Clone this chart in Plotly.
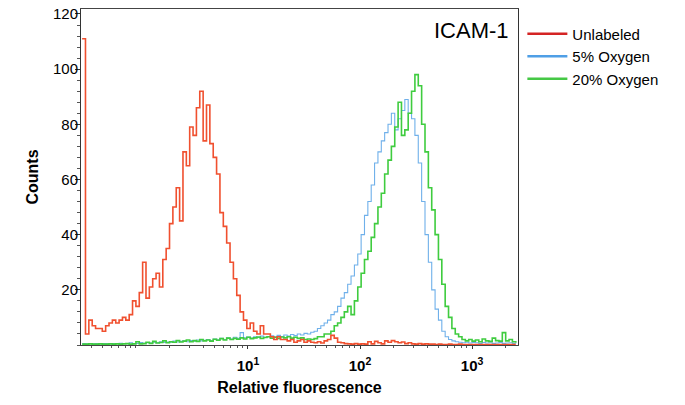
import plotly.graph_objects as go

# log10 of relative fluorescence at each histogram channel (bin start)
log_bins = [
    -0.48, -0.45, -0.42, -0.39, -0.36, -0.33, -0.30, -0.27, -0.24, -0.21,
    -0.18, -0.15, -0.12, -0.09, -0.06, -0.03, 0.00, 0.03, 0.06, 0.09,
    0.12, 0.15, 0.18, 0.21, 0.24, 0.27, 0.30, 0.33, 0.36, 0.39,
    0.42, 0.45, 0.48, 0.51, 0.54, 0.57, 0.60, 0.63, 0.66, 0.69,
    0.72, 0.75, 0.78, 0.81, 0.84, 0.87, 0.90, 0.93, 0.96, 0.99,
    1.02, 1.05, 1.08, 1.11, 1.14, 1.17, 1.20, 1.23, 1.26, 1.29,
    1.32, 1.35, 1.38, 1.41, 1.44, 1.47, 1.50, 1.53, 1.56, 1.59,
    1.62, 1.65, 1.68, 1.71, 1.74, 1.77, 1.80, 1.83, 1.86, 1.89,
    1.92, 1.95, 1.98, 2.01, 2.04, 2.07, 2.10, 2.13, 2.16, 2.19,
    2.22, 2.25, 2.28, 2.31, 2.34, 2.37, 2.40, 2.43, 2.46, 2.49,
    2.52, 2.55, 2.58, 2.61, 2.64, 2.67, 2.70, 2.73, 2.76, 2.79,
    2.82, 2.85, 2.88, 2.91, 2.94, 2.97, 3.00, 3.03, 3.06, 3.09,
    3.12, 3.15, 3.18, 3.21, 3.24, 3.27, 3.30, 3.33, 3.36, 3.39,
]

unlabeled = [
    111, 4, 9, 7, 6, 6, 5, 7, 8, 9,
    8, 9, 10, 9, 11, 16, 14, 19, 30, 17,
    21, 24, 26, 21, 31, 35, 44, 50, 57, 45,
    70, 65, 79, 76, 86, 92, 74, 87, 73, 68,
    62, 48, 43, 37, 30, 24, 18, 12, 9, 6,
    8, 5, 4, 7, 4, 4, 3, 2, 3, 2,
    2, 1.5, 2, 1, 1.5, 2, 1, 1.5, 1, 0.8,
    1.2, 0.7, 1.5, 2, 3.5, 2.5, 1.0, 0.8, 0.5, 0.4,
    0.3, 0.5, 0.3, 0.4, 0.3, 1.2, 0.4, 1.3, 0.8, 0.4,
    1.5, 1.0, 1.6, 1.2, 0.8, 1.1, 0.5, 0.8, 0.4, 0.3,
    0.5, 0.3, 0.4, 0.3, 0.3, 0.2, 0.3, 0.2, 0.2, 0.3,
    0.2, 0.2, 0.3, 0.2, 0.2, 0.2, 0.2, 0.2, 0.2, 0.2,
    0.2, 0.2, 0.2, 0.2, 0.2, 0.2, 0.2, 0.2, 0.2, 0.2,
]

oxygen_5 = [
    0.5, 0.4, 0.5, 0.4, 0.5, 0.4, 0.5, 0.5, 0.4, 0.5,
    0.5, 0.6, 0.5, 0.5, 0.8, 0.5, 0.6, 0.9, 0.6, 0.8,
    0.7, 1.0, 0.8, 1.2, 0.9, 1.1, 1.0, 1.4, 1.1, 1.3,
    1.5, 1.2, 1.6, 1.4, 1.8, 1.5, 1.7, 2.0, 1.6, 2.2,
    1.9, 2.4, 2.0, 2.6, 2.2, 2.8, 2.4, 4.5, 2.6, 2.9,
    2.5, 3.0, 2.7, 3.2, 2.8, 3.0, 3.3, 2.9, 3.5, 3.1,
    3.6, 3.2, 3.8, 3.4, 4.0, 3.6, 4.2, 4.0, 4.6, 5.0,
    6, 7, 8, 9, 11, 12, 14, 17, 19, 22,
    25, 29, 33, 40, 47, 52, 58, 66, 70, 74,
    77, 80, 84, 78, 82, 85, 89, 84, 82, 76,
    66, 52, 40, 30, 20, 13, 9, 5, 3, 2,
    1.5, 1.2, 1.0, 0.8, 1.0, 0.7, 0.9, 0.8, 0.6, 0.9,
    0.7, 0.8, 0.6, 0.7, 0.9, 0.6, 0.7, 0.8, 0.6, 0.5,
]

oxygen_20 = [
    0.3, 0.3, 0.4, 0.3, 0.3, 0.4, 0.3, 0.3, 0.4, 0.3,
    0.4, 0.3, 0.4, 0.5, 0.3, 0.4, 1.2, 0.4, 0.5, 1.0,
    0.6, 1.3, 0.7, 0.9, 1.5, 0.8, 1.2, 1.0, 1.6, 1.1,
    1.4, 1.8, 1.2, 1.6, 1.3, 2.0, 1.5, 1.8, 1.4, 2.1,
    1.7, 2.3, 1.8, 2.5, 2.0, 2.4, 2.1, 2.6, 2.2, 2.8,
    2.3, 2.6, 2.9, 2.4, 2.7, 3.0, 2.5, 2.8, 2.4, 2.9,
    2.6, 3.0, 2.5, 2.8, 2.4, 2.6, 2.0, 2.2, 2.0, 2.3,
    3, 3, 4, 4, 5, 7, 8, 10, 12, 14,
    11, 16, 21, 26, 31, 34, 39, 44, 50, 55,
    62, 67, 72, 79, 88, 76, 78, 84, 92, 98,
    94, 80, 70, 57, 49, 40, 31, 22, 14, 10,
    6, 4, 3, 2, 1.5, 2.0, 1.4, 1.8, 1.2, 2.2,
    1.5, 1.3, 2.5, 1.6, 1.4, 4.5, 1.5, 2.0, 1.2, 0.8,
]

x_tick_vals = [10, 100, 1000]
x_tick_text = ["<b>10<sup>1</sup></b>", "<b>10<sup>2</sup></b>", "<b>10<sup>3</sup></b>"]
y_tick_vals = [20, 40, 60, 80, 100, 120]

series_names = ["Unlabeled", "5% Oxygen", "20% Oxygen"]
curve_colors = ["#f0502f", "#6fb0ea", "#3fcc3f"]
legend_colors = ["#d42424", "#4f9fe6", "#45c845"]

fluor = [10 ** v for v in log_bins]
FONT = "Liberation Sans, Arial, Helvetica, sans-serif"

fig = go.Figure()
# draw order: blue, green, then red on top of baseline
for name, ys, col, w in [
    (series_names[1], oxygen_5, curve_colors[1], 1.1),
    (series_names[2], oxygen_20, curve_colors[2], 1.6),
    (series_names[0], unlabeled, curve_colors[0], 1.6),
]:
    fig.add_trace(go.Scatter(x=fluor, y=ys, mode="lines", line=dict(color=col, width=w, shape="hv"),
                             name=name, showlegend=False, hoverinfo="skip"))

for rank, (name, col) in enumerate(zip(series_names, legend_colors)):
    fig.add_trace(go.Scatter(x=[None], y=[None], mode="lines", line=dict(color=col, width=2.5),
                             name=name, legendrank=rank + 1))

fig.add_annotation(text="ICAM-1", xref="paper", yref="paper", x=0.985, y=0.935,
                   xanchor="right", yanchor="middle", showarrow=False,
                   font=dict(family=FONT, size=22, color="#000"))

fig.update_layout(
    width=685, height=405,
    margin=dict(l=81, r=167, t=9, b=60, autoexpand=False),
    paper_bgcolor="white", plot_bgcolor="white",
    font=dict(family=FONT, color="#000"),
    legend=dict(x=1.01, y=0.975, xanchor="left", yanchor="top", bgcolor="rgba(0,0,0,0)",
                font=dict(family=FONT, size=15, color="#000"), itemwidth=40, tracegroupgap=0),
    showlegend=True,
)
fig.update_xaxes(
    type="log", range=[-0.49, 3.41], automargin=False,
    tickvals=x_tick_vals, ticktext=x_tick_text,
    tickfont=dict(family=FONT, size=15, color="#000"),
    ticks="outside", ticklen=3, tickcolor="#333", ticklabelstandoff=4,
    minor=dict(ticks="outside", ticklen=2, tickcolor="#555", dtick="D1"),
    showgrid=False, zeroline=False,
    showline=True, mirror=True, linecolor="#444", linewidth=1,
    title=dict(text="<b>Relative fluorescence</b>", font=dict(family=FONT, size=16, color="#000"), standoff=8),
)
fig.update_yaxes(
    range=[0, 121.8], automargin=False,
    tickvals=y_tick_vals,
    tickfont=dict(family=FONT, size=15, color="#000"),
    ticks="outside", ticklen=5, tickcolor="#333", ticklabelstandoff=-6,
    minor=dict(ticks="outside", ticklen=3, tickcolor="#555", dtick=4),
    showgrid=False, zeroline=False,
    showline=True, mirror=True, linecolor="#333", linewidth=1,
    title=dict(text="<b>Counts</b>", font=dict(family=FONT, size=16, color="#000"), standoff=10),
)

fig.write_html("out.html", config={"displayModeBar": False},
               post_script="document.body.style.margin='0';")
